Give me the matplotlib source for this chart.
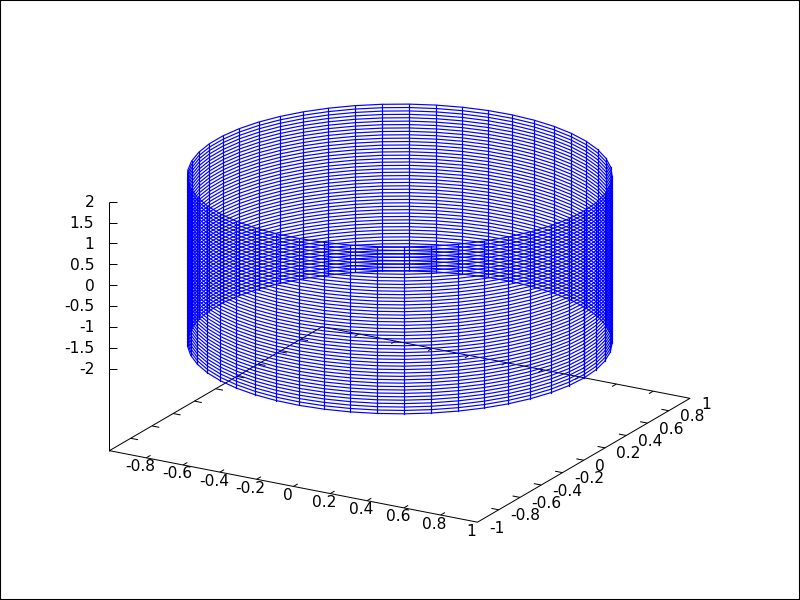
import numpy as np
import matplotlib
matplotlib.use("Agg")
import matplotlib.pyplot as plt

# sample angles round the cylinder (degrees) and the heights of the rings
theta_deg = [0, 7.35, 14.69, 22.04, 29.39, 36.73, 44.08, 51.43, 58.78, 66.12,
             73.47, 80.82, 88.16, 95.51, 102.86, 110.2, 117.55, 124.9, 132.24, 139.59,
             146.94, 154.29, 161.63, 168.98, 176.33, 183.67, 191.02, 198.37, 205.71, 213.06,
             220.41, 227.76, 235.1, 242.45, 249.8, 257.14, 264.49, 271.84, 279.18, 286.53,
             293.88, 301.22, 308.57, 315.92, 323.27, 330.61, 337.96, 345.31, 352.65, 360]
z_levels = [-2, -1.918, -1.837, -1.755, -1.673, -1.592, -1.51, -1.429, -1.347, -1.265,
            -1.184, -1.102, -1.02, -0.939, -0.857, -0.776, -0.694, -0.612, -0.531, -0.449,
            -0.367, -0.286, -0.204, -0.122, -0.041, 0.041, 0.122, 0.204, 0.286, 0.367,
            0.449, 0.531, 0.612, 0.694, 0.776, 0.857, 0.939, 1.02, 1.102, 1.184,
            1.265, 1.347, 1.429, 1.51, 1.592, 1.673, 1.755, 1.837, 1.918, 2]
radius = 1.0

xy_ticks = [-1, -0.8, -0.6, -0.4, -0.2, 0, 0.2, 0.4, 0.6, 0.8, 1]
xy_labels = ["-1", "-0.8", "-0.6", "-0.4", "-0.2", "0", "0.2", "0.4", "0.6", "0.8", "1"]
z_ticks = [-2, -1.5, -1, -0.5, 0, 0.5, 1, 1.5, 2]
z_labels = ["-2", "-1.5", "-1", "-0.5", "0", "0.5", "1", "1.5", "2"]

# view 60,30 with the pixel scale of the plot box
ROT_Z = np.radians(30)
ROT_X = np.radians(60)
CENTER = (399.7, 424.5)
SCALE_H = 212.5
SCALE_V = 143.0
SCALE_Z = 41.7
Z_FLOOR = -3.97
TICK = 0.04
FONT = 11.2


def project(x, y, z):
    """3d to figure pixels"""
    x, y, z = np.asarray(x, float), np.asarray(y, float), np.asarray(z, float)
    sx = CENTER[0] + SCALE_H * (x * np.cos(ROT_Z) + y * np.sin(ROT_Z))
    sy = CENTER[1] - SCALE_V * np.cos(ROT_X) * (-x * np.sin(ROT_Z) + y * np.cos(ROT_Z))
    return sx, sy - SCALE_Z * (z - Z_FLOOR)


def line3d(ax, x, y, z, **kw):
    sx, sy = project(x, y, z)
    ax.plot(sx, sy, **kw)


fig = plt.figure(figsize=(8, 6), dpi=100)
ax = fig.add_axes([0, 0, 1, 1])
ax.set_xlim(0, 800)
ax.set_ylim(600, 0)
ax.set_xticks([])
ax.set_yticks([])
for s in ax.spines.values():
    s.set_linewidth(1.5)

black = dict(color="black", lw=0.72, solid_capstyle="butt", zorder=1)
f = Z_FLOOR

# base box
line3d(ax, [-1, 1, 1, -1, -1], [-1, -1, 1, 1, -1], [f, f, f, f, f], **black)
line3d(ax, [-1, -1], [-1, -1], [f, 2], **black)

for t, lab in zip(xy_ticks, xy_labels):
    if -1 < t < 1:
        # x ticks, front and back edge
        line3d(ax, [t, t], [-1, -1 + TICK], [f, f], **black)
        line3d(ax, [t, t], [1, 1 - TICK], [f, f], **black)
        # y ticks, right and left edge
        line3d(ax, [1, 1 - TICK], [t, t], [f, f], **black)
        line3d(ax, [-1, -1 + TICK], [t, t], [f, f], **black)
    # the reference has no -1 on the x axis
    if t > -1:
        sx, sy = project(t, -1, f)
        ax.text(sx - 6, sy + 9, lab, ha="center", va="center", fontsize=FONT, color="black")
    sx, sy = project(1, t, f)
    ax.text(sx + 11.5, sy + 6, lab, ha="left", va="center", fontsize=FONT, color="black")

for t, lab in zip(z_ticks, z_labels):
    sx, sy = project(-1, -1, t)
    ax.plot([sx, sx + 8], [sy, sy], **black)
    ax.text(sx - 15, sy + 1, lab, ha="right", va="center", fontsize=FONT, color="black")

# wire cylinder
theta = np.radians(theta_deg)
wire_x = radius * np.cos(theta)
wire_y = radius * np.sin(theta)
wire = dict(color="blue", lw=0.85, solid_joinstyle="round", zorder=2)
for z in z_levels:
    line3d(ax, wire_x, wire_y, np.full(wire_x.shape, z), **wire)
for x, y in zip(wire_x, wire_y):
    line3d(ax, [x, x], [y, y], [z_levels[0], z_levels[-1]], **wire)

fig.savefig("out.png", dpi=100)
